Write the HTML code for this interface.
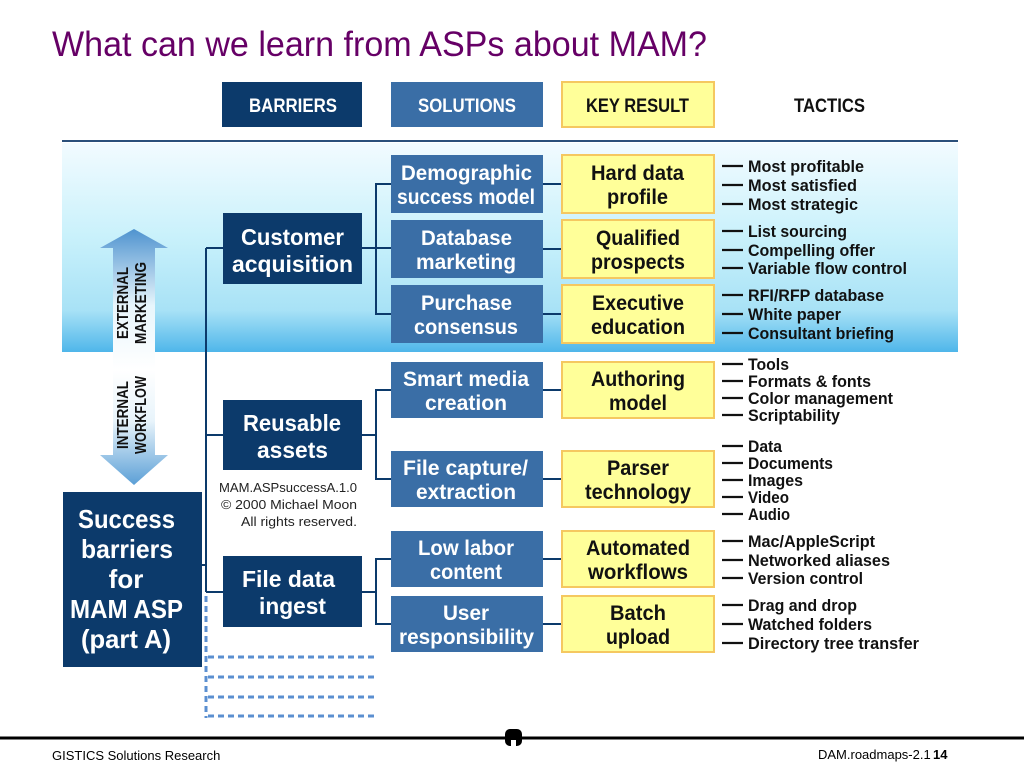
<!DOCTYPE html>
<html><head><meta charset="utf-8"><style>
html,body{margin:0;padding:0;background:#fff;}
svg{display:block}
.t{font-family:"Liberation Sans Narrow","Liberation Sans",sans-serif;font-weight:bold;}
.w{fill:#fff}
.k{fill:#111}
</style></head><body>
<svg width="1024" height="768" viewBox="0 0 1024 768" xmlns="http://www.w3.org/2000/svg">
<defs>
<linearGradient id="band" x1="0" y1="0" x2="0" y2="1">
<stop offset="0" stop-color="#f2fbff"/>
<stop offset="0.45" stop-color="#c9f1fb"/>
<stop offset="0.8" stop-color="#a8e2f6"/>
<stop offset="1" stop-color="#4fb6ea"/>
</linearGradient>
<linearGradient id="arr" x1="0" y1="0" x2="0" y2="1">
<stop offset="0" stop-color="#4f93cf"/>
<stop offset="0.3" stop-color="#e8f6fc"/>
<stop offset="0.55" stop-color="#ffffff"/>
<stop offset="0.75" stop-color="#e8f4fb"/>
<stop offset="1" stop-color="#5b9fd6"/>
</linearGradient>
</defs>

<text x="52" y="56" font-family="Liberation Sans, sans-serif" font-size="35" fill="#660066" textLength="655" lengthAdjust="spacingAndGlyphs">What can we learn from ASPs about MAM?</text>

<!-- header -->
<rect x="222" y="82" width="140" height="45" fill="#0c3a6b"/>
<rect x="391" y="82" width="152" height="45" fill="#3a6ea6"/>
<rect x="562" y="82" width="152" height="45" fill="#ffff99" stroke="#f5c860" stroke-width="2"/>
<text class="t w" x="249" y="112" font-size="19" textLength="88" lengthAdjust="spacingAndGlyphs">BARRIERS</text>
<text class="t w" x="418" y="112" font-size="19" textLength="98" lengthAdjust="spacingAndGlyphs">SOLUTIONS</text>
<text class="t k" x="586" y="112" font-size="19" textLength="103" lengthAdjust="spacingAndGlyphs">KEY RESULT</text>
<text class="t k" x="794" y="112" font-size="19" textLength="71" lengthAdjust="spacingAndGlyphs">TACTICS</text>
<line x1="62" y1="141" x2="958" y2="141" stroke="#2a4f7a" stroke-width="2"/>

<!-- band -->
<rect x="62" y="143" width="896" height="209" fill="url(#band)"/>

<!-- arrow -->
<polygon points="134,229 168,248 155,248 155,455 168,455 134,485 100,455 113,455 113,248 100,248" fill="url(#arr)"/>
<g transform="translate(133,303) rotate(-90)">
<text class="t k" x="0" y="-5" font-size="16" text-anchor="middle" textLength="72" lengthAdjust="spacingAndGlyphs">EXTERNAL</text>
<text class="t k" x="0" y="13" font-size="16" text-anchor="middle" textLength="82" lengthAdjust="spacingAndGlyphs">MARKETING</text>
</g>
<g transform="translate(133,415) rotate(-90)">
<text class="t k" x="0" y="-5" font-size="16" text-anchor="middle" textLength="68" lengthAdjust="spacingAndGlyphs">INTERNAL</text>
<text class="t k" x="0" y="13" font-size="16" text-anchor="middle" textLength="78" lengthAdjust="spacingAndGlyphs">WORKFLOW</text>
</g>

<!-- connectors -->
<g stroke="#0c3a6b" stroke-width="2" fill="none">
<line x1="206" y1="248" x2="206" y2="592"/>
<line x1="206" y1="248" x2="223" y2="248"/>
<line x1="206" y1="435" x2="223" y2="435"/>
<line x1="206" y1="592" x2="223" y2="592"/>
<line x1="202" y1="565" x2="206" y2="565"/>
<line x1="362" y1="248" x2="391" y2="248"/>
<polyline points="391,184 376,184 376,314 391,314"/>
<line x1="362" y1="435" x2="376" y2="435"/>
<polyline points="391,390 376,390 376,479 391,479"/>
<line x1="362" y1="592" x2="376" y2="592"/>
<polyline points="391,559 376,559 376,624 391,624"/>
<line x1="543" y1="184" x2="562" y2="184"/>
<line x1="543" y1="249" x2="562" y2="249"/>
<line x1="543" y1="314" x2="562" y2="314"/>
<line x1="543" y1="390" x2="562" y2="390"/>
<line x1="543" y1="479" x2="562" y2="479"/>
<line x1="543" y1="559" x2="562" y2="559"/>
<line x1="543" y1="624" x2="562" y2="624"/>
</g>
<g stroke="#5b8fd0" stroke-width="3" stroke-dasharray="6,4" fill="none">
<line x1="206" y1="596" x2="206" y2="718"/>
<line x1="208" y1="657" x2="376" y2="657"/>
<line x1="208" y1="677" x2="376" y2="677"/>
<line x1="208" y1="697" x2="376" y2="697"/>
<line x1="208" y1="716" x2="376" y2="716"/>
</g>

<!-- success box -->
<rect x="63" y="492" width="139" height="175" fill="#0c3a6b"/>
<text class="t w" x="78" y="528" font-size="26" textLength="97" lengthAdjust="spacingAndGlyphs">Success</text>
<text class="t w" x="81" y="558" font-size="26" textLength="92" lengthAdjust="spacingAndGlyphs">barriers</text>
<text class="t w" x="126" y="588" font-size="26" text-anchor="middle">for</text>
<text class="t w" x="70" y="618" font-size="26" textLength="113" lengthAdjust="spacingAndGlyphs">MAM ASP</text>
<text class="t w" x="81" y="648" font-size="26" textLength="90" lengthAdjust="spacingAndGlyphs">(part A)</text>

<!-- barriers -->
<rect x="223" y="213" width="139" height="71" fill="#0c3a6b"/>
<text class="t w" x="241" y="245" font-size="23" textLength="103" lengthAdjust="spacingAndGlyphs">Customer</text>
<text class="t w" x="232" y="272" font-size="23" textLength="121" lengthAdjust="spacingAndGlyphs">acquisition</text>
<rect x="223" y="400" width="139" height="70" fill="#0c3a6b"/>
<text class="t w" x="243" y="431" font-size="23" textLength="98" lengthAdjust="spacingAndGlyphs">Reusable</text>
<text class="t w" x="257" y="458" font-size="23" textLength="71" lengthAdjust="spacingAndGlyphs">assets</text>
<rect x="223" y="556" width="139" height="71" fill="#0c3a6b"/>
<text class="t w" x="242" y="587" font-size="23" textLength="93" lengthAdjust="spacingAndGlyphs">File data</text>
<text class="t w" x="259" y="614" font-size="23" textLength="67" lengthAdjust="spacingAndGlyphs">ingest</text>

<g font-family="Liberation Sans, sans-serif" font-size="13" fill="#222" text-anchor="end">
<text x="357" y="492" textLength="138" lengthAdjust="spacingAndGlyphs">MAM.ASPsuccessA.1.0</text>
<text x="357" y="509" textLength="136" lengthAdjust="spacingAndGlyphs">© 2000 Michael Moon</text>
<text x="357" y="526" textLength="116" lengthAdjust="spacingAndGlyphs">All rights reserved.</text>
</g>

<!-- solutions -->
<g fill="#3a6ea6">
<rect x="391" y="155" width="152" height="58"/>
<rect x="391" y="220" width="152" height="58"/>
<rect x="391" y="285" width="152" height="58"/>
<rect x="391" y="362" width="152" height="56"/>
<rect x="391" y="451" width="152" height="56"/>
<rect x="391" y="531" width="152" height="56"/>
<rect x="391" y="596" width="152" height="56"/>
</g>
<g font-size="21">
<text class="t w" x="401" y="180" textLength="131" lengthAdjust="spacingAndGlyphs">Demographic</text>
<text class="t w" x="397" y="204" textLength="138" lengthAdjust="spacingAndGlyphs">success model</text>
<text class="t w" x="421" y="245" textLength="91" lengthAdjust="spacingAndGlyphs">Database</text>
<text class="t w" x="416" y="269" textLength="100" lengthAdjust="spacingAndGlyphs">marketing</text>
<text class="t w" x="421" y="310" textLength="91" lengthAdjust="spacingAndGlyphs">Purchase</text>
<text class="t w" x="414" y="334" textLength="104" lengthAdjust="spacingAndGlyphs">consensus</text>
<text class="t w" x="403" y="386" textLength="126" lengthAdjust="spacingAndGlyphs">Smart media</text>
<text class="t w" x="425" y="410" textLength="82" lengthAdjust="spacingAndGlyphs">creation</text>
<text class="t w" x="403" y="475" textLength="125" lengthAdjust="spacingAndGlyphs">File capture/</text>
<text class="t w" x="416" y="499" textLength="100" lengthAdjust="spacingAndGlyphs">extraction</text>
<text class="t w" x="418" y="555" textLength="96" lengthAdjust="spacingAndGlyphs">Low labor</text>
<text class="t w" x="430" y="579" textLength="72" lengthAdjust="spacingAndGlyphs">content</text>
<text class="t w" x="443" y="620" textLength="46" lengthAdjust="spacingAndGlyphs">User</text>
<text class="t w" x="399" y="644" textLength="135" lengthAdjust="spacingAndGlyphs">responsibility</text>
</g>

<!-- key results -->
<g fill="#ffff99" stroke="#f5c860" stroke-width="2">
<rect x="562" y="155" width="152" height="58"/>
<rect x="562" y="220" width="152" height="58"/>
<rect x="562" y="285" width="152" height="58"/>
<rect x="562" y="362" width="152" height="56"/>
<rect x="562" y="451" width="152" height="56"/>
<rect x="562" y="531" width="152" height="56"/>
<rect x="562" y="596" width="152" height="56"/>
</g>
<g font-size="21">
<text class="t k" x="591" y="180" textLength="93" lengthAdjust="spacingAndGlyphs">Hard data</text>
<text class="t k" x="607" y="204" textLength="61" lengthAdjust="spacingAndGlyphs">profile</text>
<text class="t k" x="596" y="245" textLength="84" lengthAdjust="spacingAndGlyphs">Qualified</text>
<text class="t k" x="591" y="269" textLength="94" lengthAdjust="spacingAndGlyphs">prospects</text>
<text class="t k" x="592" y="310" textLength="92" lengthAdjust="spacingAndGlyphs">Executive</text>
<text class="t k" x="591" y="334" textLength="94" lengthAdjust="spacingAndGlyphs">education</text>
<text class="t k" x="591" y="386" textLength="94" lengthAdjust="spacingAndGlyphs">Authoring</text>
<text class="t k" x="609" y="410" textLength="58" lengthAdjust="spacingAndGlyphs">model</text>
<text class="t k" x="607" y="475" textLength="62" lengthAdjust="spacingAndGlyphs">Parser</text>
<text class="t k" x="585" y="499" textLength="106" lengthAdjust="spacingAndGlyphs">technology</text>
<text class="t k" x="586" y="555" textLength="104" lengthAdjust="spacingAndGlyphs">Automated</text>
<text class="t k" x="588" y="579" textLength="100" lengthAdjust="spacingAndGlyphs">workflows</text>
<text class="t k" x="610" y="620" textLength="56" lengthAdjust="spacingAndGlyphs">Batch</text>
<text class="t k" x="606" y="644" textLength="64" lengthAdjust="spacingAndGlyphs">upload</text>
</g>

<!-- tactics -->
<g stroke="#111" stroke-width="2.2">
<line x1="722" y1="166" x2="743" y2="166"/><line x1="722" y1="185" x2="743" y2="185"/><line x1="722" y1="204" x2="743" y2="204"/>
<line x1="722" y1="231" x2="743" y2="231"/><line x1="722" y1="250" x2="743" y2="250"/><line x1="722" y1="268" x2="743" y2="268"/>
<line x1="722" y1="295" x2="743" y2="295"/><line x1="722" y1="314" x2="743" y2="314"/><line x1="722" y1="333" x2="743" y2="333"/>
<line x1="722" y1="364" x2="743" y2="364"/><line x1="722" y1="381" x2="743" y2="381"/><line x1="722" y1="398" x2="743" y2="398"/><line x1="722" y1="415" x2="743" y2="415"/>
<line x1="722" y1="446" x2="743" y2="446"/><line x1="722" y1="463" x2="743" y2="463"/><line x1="722" y1="480" x2="743" y2="480"/><line x1="722" y1="497" x2="743" y2="497"/><line x1="722" y1="514" x2="743" y2="514"/>
<line x1="722" y1="541" x2="743" y2="541"/><line x1="722" y1="560" x2="743" y2="560"/><line x1="722" y1="578" x2="743" y2="578"/>
<line x1="722" y1="605" x2="743" y2="605"/><line x1="722" y1="624" x2="743" y2="624"/><line x1="722" y1="643" x2="743" y2="643"/>
</g>
<g font-size="17">
<text class="t k" x="748" y="172" textLength="116" lengthAdjust="spacingAndGlyphs">Most profitable</text>
<text class="t k" x="748" y="191" textLength="109" lengthAdjust="spacingAndGlyphs">Most satisfied</text>
<text class="t k" x="748" y="210" textLength="110" lengthAdjust="spacingAndGlyphs">Most strategic</text>
<text class="t k" x="748" y="237" textLength="99" lengthAdjust="spacingAndGlyphs">List sourcing</text>
<text class="t k" x="748" y="256" textLength="127" lengthAdjust="spacingAndGlyphs">Compelling offer</text>
<text class="t k" x="748" y="274" textLength="159" lengthAdjust="spacingAndGlyphs">Variable flow control</text>
<text class="t k" x="748" y="301" textLength="136" lengthAdjust="spacingAndGlyphs">RFI/RFP database</text>
<text class="t k" x="748" y="320" textLength="93" lengthAdjust="spacingAndGlyphs">White paper</text>
<text class="t k" x="748" y="339" textLength="146" lengthAdjust="spacingAndGlyphs">Consultant briefing</text>
<text class="t k" x="748" y="370" textLength="41" lengthAdjust="spacingAndGlyphs">Tools</text>
<text class="t k" x="748" y="387" textLength="123" lengthAdjust="spacingAndGlyphs">Formats &amp; fonts</text>
<text class="t k" x="748" y="404" textLength="145" lengthAdjust="spacingAndGlyphs">Color management</text>
<text class="t k" x="748" y="421" textLength="92" lengthAdjust="spacingAndGlyphs">Scriptability</text>
<text class="t k" x="748" y="452" textLength="34" lengthAdjust="spacingAndGlyphs">Data</text>
<text class="t k" x="748" y="469" textLength="85" lengthAdjust="spacingAndGlyphs">Documents</text>
<text class="t k" x="748" y="486" textLength="55" lengthAdjust="spacingAndGlyphs">Images</text>
<text class="t k" x="748" y="503" textLength="41" lengthAdjust="spacingAndGlyphs">Video</text>
<text class="t k" x="748" y="520" textLength="42" lengthAdjust="spacingAndGlyphs">Audio</text>
<text class="t k" x="748" y="547" textLength="127" lengthAdjust="spacingAndGlyphs">Mac/AppleScript</text>
<text class="t k" x="748" y="566" textLength="142" lengthAdjust="spacingAndGlyphs">Networked aliases</text>
<text class="t k" x="748" y="584" textLength="115" lengthAdjust="spacingAndGlyphs">Version control</text>
<text class="t k" x="748" y="611" textLength="109" lengthAdjust="spacingAndGlyphs">Drag and drop</text>
<text class="t k" x="748" y="630" textLength="124" lengthAdjust="spacingAndGlyphs">Watched folders</text>
<text class="t k" x="748" y="649" textLength="171" lengthAdjust="spacingAndGlyphs">Directory tree transfer</text>
</g>

<!-- footer -->
<line x1="0" y1="738" x2="1024" y2="738" stroke="#000" stroke-width="3"/>
<rect x="505" y="729" width="17" height="17" rx="5" fill="#000"/>
<rect x="511" y="740" width="5" height="6" fill="#fff"/>
<text x="52" y="760" font-family="Liberation Sans, sans-serif" font-size="13" fill="#000">GISTICS Solutions Research</text>
<text x="818" y="759" font-family="Liberation Sans, sans-serif" font-size="13" fill="#000">DAM.roadmaps-2.1</text>
<text x="933" y="759" font-family="Liberation Sans, sans-serif" font-size="13" font-weight="bold" fill="#000">14</text>
</svg>
</body></html>
